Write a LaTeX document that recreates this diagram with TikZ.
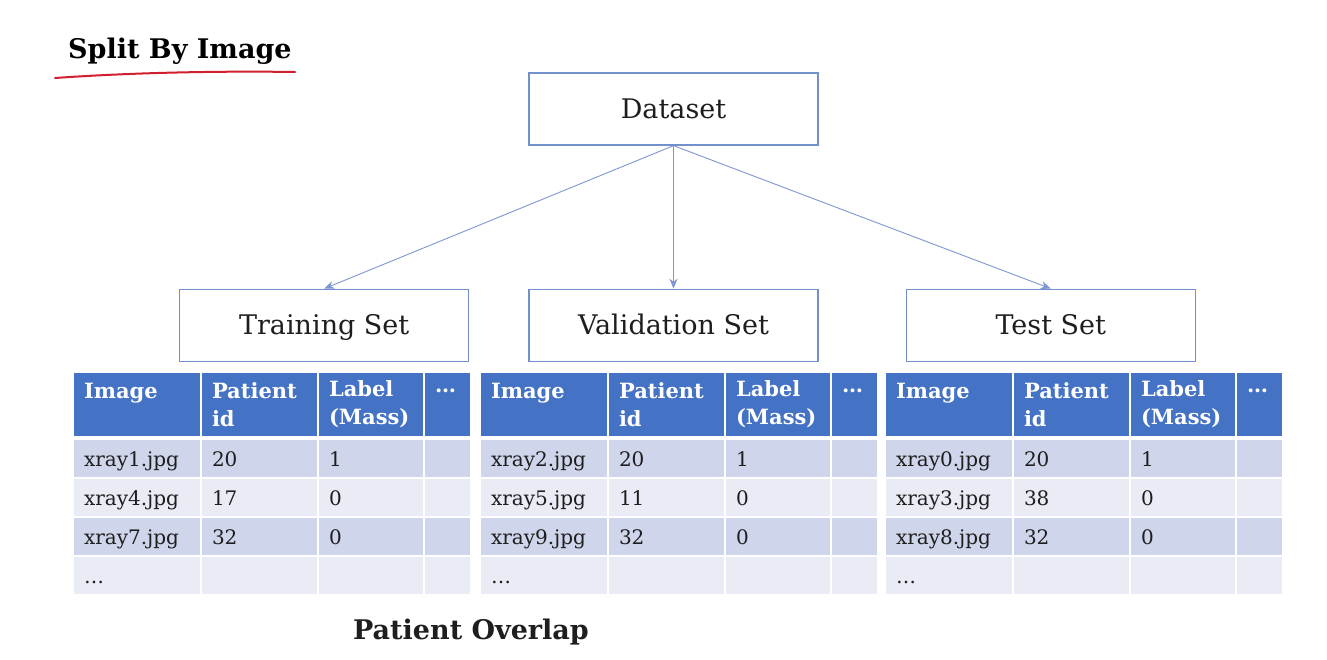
\documentclass[tikz,border=0pt]{standalone}
\usepackage{fontspec}
\setmainfont{DejaVu Serif}
\usepackage{tikz}
\usetikzlibrary{arrows.meta,positioning,calc}

\definecolor{boxblue}{HTML}{7290CC}
\definecolor{linkblue}{HTML}{7F96D2}
\definecolor{headblue}{HTML}{4472C4}
\definecolor{rowdark}{HTML}{CFD5EA}
\definecolor{rowlight}{HTML}{E9EBF5}
\definecolor{textgray}{HTML}{1E1E1E}
\definecolor{penred}{HTML}{D0202E}

\tikzset{
  setbox/.style={draw=boxblue, line width=1.3pt, minimum width=289pt, minimum height=72pt,
    text height=24pt, text depth=5pt, font=\fontsize{27}{30}\selectfont, text=textgray},
  link/.style={draw=linkblue, line width=0.9pt, -{Stealth[length=10pt,width=8pt]}},
  cell/.style={anchor=north west, outer sep=0pt, inner xsep=10pt, inner ysep=0pt, align=left},
  headcell/.style={cell, fill=headblue, text=white, minimum height=63pt,
    font=\bfseries\fontsize{21}{28}\selectfont},
  bodycell/.style={cell, minimum height=37pt, text height=18pt, text depth=2pt,
    text=textgray, font=\fontsize{20}{22}\selectfont},
}

\begin{document}
\begin{tikzpicture}[x=1pt,y=-1pt]
  \fill[white] (0,0) rectangle (1327,659);
  \useasboundingbox (0,0) rectangle (1327,659);

  % title
  \node[anchor=base west, inner sep=0pt, font=\bfseries\fontsize{27}{30}\selectfont] (title) at (68,58) {Split By Image};
  \draw[penred, line width=2pt, line cap=round] (55,78) .. controls (140,72) and (230,71) .. (295,72);

  % split boxes
  \node[setbox] (dataset) at (673.5,109) {Dataset};
  \node[setbox, below=143pt of dataset] (valid) {Validation Set};
  \node[setbox, left=59pt of valid] (train) {Training Set};
  \node[setbox, right=87pt of valid] (test) {Test Set};

  \path
    (dataset.south) edge[link] (train.north)
    (dataset.south) edge[link] (valid.north)
    (dataset.south) edge[link] (test.north);

  % table headers
  \foreach \t/\x in {1/74,2/481,3/886}{
    \node[headcell, text width=106pt] (h\t-1) at (\x,373) {Image\\\mbox{}};
    \node[headcell, text width=95pt] (h\t-2) at (\x+128,373) {Patient\\id};
    \node[headcell, text width=84pt] (h\t-3) at (\x+245,373) {Label\\(Mass)};
    \node[headcell, text width=25pt] (h\t-4) at (\x+351,373) {\dots\\\mbox{}};
  }

  % table rows
  \foreach \t/\x/\r/\c/\img/\pid/\lab in {
      1/74/1/rowdark/xray1.jpg/20/1, 1/74/2/rowlight/xray4.jpg/17/0,
      1/74/3/rowdark/xray7.jpg/32/0, 1/74/4/rowlight/\dots/{}/{},
      2/481/1/rowdark/xray2.jpg/20/1, 2/481/2/rowlight/xray5.jpg/11/0,
      2/481/3/rowdark/xray9.jpg/32/0, 2/481/4/rowlight/\dots/{}/{},
      3/886/1/rowdark/xray0.jpg/20/1, 3/886/2/rowlight/xray3.jpg/38/0,
      3/886/3/rowdark/xray8.jpg/32/0, 3/886/4/rowlight/\dots/{}/{}}{
    \node[bodycell, fill=\c, text width=106pt] (c\t-\r-1) at (\x,{401+39*\r}) {\img};
    \node[bodycell, fill=\c, text width=95pt] (c\t-\r-2) at (\x+128,{401+39*\r}) {\pid};
    \node[bodycell, fill=\c, text width=84pt] (c\t-\r-3) at (\x+245,{401+39*\r}) {\lab};
    \node[bodycell, fill=\c, text width=25pt] (c\t-\r-4) at (\x+351,{401+39*\r}) {};
  }

  \node[font=\bfseries\fontsize{27}{30}\selectfont, text=textgray] (overlap) at (471,632) {Patient Overlap};
\end{tikzpicture}
\end{document}
